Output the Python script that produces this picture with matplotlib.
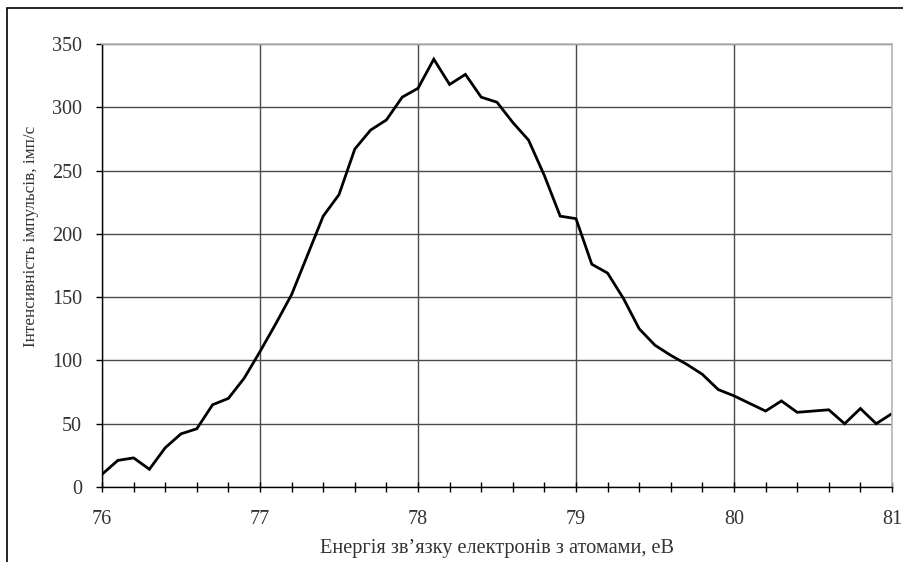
import matplotlib
matplotlib.use("Agg")
import matplotlib.pyplot as plt
import numpy as np
from matplotlib.patches import Rectangle
from matplotlib.ticker import MultipleLocator

# binding energy, eV (step 0.1)
energy = [76.0, 76.1, 76.2, 76.3, 76.4, 76.5, 76.6, 76.7, 76.8, 76.9,
          77.0, 77.1, 77.2, 77.3, 77.4, 77.5, 77.6, 77.7, 77.8, 77.9,
          78.0, 78.1, 78.2, 78.3, 78.4, 78.5, 78.6, 78.7, 78.8, 78.9,
          79.0, 79.1, 79.2, 79.3, 79.4, 79.5, 79.6, 79.7, 79.8, 79.9,
          80.0, 80.1, 80.2, 80.3, 80.4, 80.5, 80.6, 80.7, 80.8, 80.9,
          81.0]
# pulse intensity, imp/s
intensity = [10, 21, 23, 14, 31, 42, 46, 65, 70, 86,
             107, 129, 152, 183, 214, 231, 267, 282, 290, 308,
             315, 338, 318, 326, 308, 304, 288, 274, 246, 214,
             212, 176, 169, 149, 125, 112, 104, 97, 89, 77,
             72, 66, 60, 68, 59, 60, 61, 50, 62, 50,
             58]

x_ticks = [76, 77, 78, 79, 80, 81]
y_ticks = [0, 50, 100, 150, 200, 250, 300, 350]

plt.rcParams["font.family"] = ["Liberation Serif", "DejaVu Serif"]

W, H = 904, 562
fig = plt.figure(figsize=(W / 100, H / 100), dpi=100)
ax = fig.add_axes([102 / W, 1 - 487 / H, (892 - 102) / W, (487 - 44) / H])

ax.plot(energy, intensity, color="black", lw=2.0, solid_joinstyle="miter")

ax.set_xlim(76, 81)
ax.set_ylim(0, 350)
ax.set_xticks(x_ticks)
ax.set_yticks(y_ticks)
ax.xaxis.set_minor_locator(MultipleLocator(0.2))
ax.grid(True, which="major", color="#4a4a4a", lw=1.0)
ax.set_axisbelow(True)

ax.tick_params(axis="x", which="both", direction="inout", length=7, width=1,
               labelsize=14.5, pad=13, colors="black", labelcolor="#333333")
ax.tick_params(axis="y", direction="out", length=4.5, width=1,
               labelsize=14.5, pad=10, labelcolor="#333333")

for side in ("left", "bottom"):
    ax.spines[side].set_color("black")
    ax.spines[side].set_linewidth(1.0)
for side in ("top", "right"):
    ax.spines[side].set_color("#b8b8b8")
    ax.spines[side].set_linewidth(1.2)

fig.text(497 / W, 1 - 548 / H, "Енергія зв’язку електронів з атомами, еВ",
         ha="center", va="center", fontsize=14.6, color="#333333")
fig.text(31 / W, 1 - 236 / H, "Інтенсивність імпульсів, імп/с",
         ha="center", va="center", rotation=90, fontsize=12.3, color="#333333")

# outer frame of the original picture (cut at right and bottom)
fig.patches.append(Rectangle((7 / W, -0.1), 1.2, 1 - 8 / H + 0.1,
                             transform=fig.transFigure, fill=False,
                             edgecolor="black", lw=1.2, clip_on=False))

fig.savefig("out.png", dpi=100)
plt.close(fig)
